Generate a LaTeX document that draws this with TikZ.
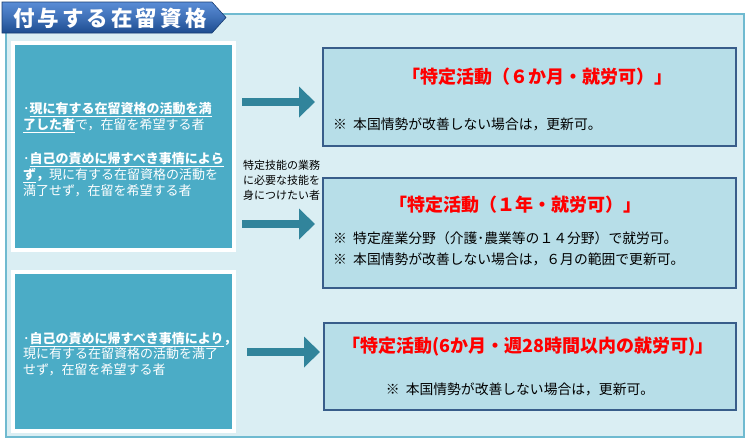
\documentclass[tikz,border=0pt]{standalone}
\usepackage{fontspec}
\setmainfont{Noto Sans CJK JP}
\usetikzlibrary{arrows.meta,shadows}
\definecolor{panelfill}{HTML}{DAEEF3}
\definecolor{panelline}{HTML}{6FBAD0}
\definecolor{leftfill}{HTML}{4BACC6}
\definecolor{rightfill}{HTML}{B7DEE8}
\definecolor{rightline}{HTML}{385D8A}
\definecolor{arrowcol}{HTML}{31849B}
\definecolor{bannertop}{HTML}{5A8DD6}
\definecolor{bannerbot}{HTML}{1D4C90}
\tikzset{
  leftbox/.style={draw=white, line width=4pt, fill=leftfill, inner sep=0pt,
    drop shadow={opacity=0.25, shadow xshift=1pt, shadow yshift=-1.5pt}},
  rightbox/.style={draw=rightline, line width=1.6pt, fill=rightfill, inner sep=0pt},
  flow/.style={draw=arrowcol, line width=8pt, -{Triangle[length=16pt,width=30pt]}},
  redtitle/.style={text=red, inner sep=0pt, font=\fontsize{18}{21}\selectfont\bfseries},
  note/.style={inner sep=0pt, font=\fontsize{13.8}{16}\selectfont},
  lefttext/.style={text=white, align=left, anchor=west, inner sep=0pt,
    font=\fontsize{13}{16}\selectfont},
  sidelabel/.style={align=left, anchor=north west, inner sep=0pt,
    font=\fontsize{11}{15}\selectfont},
}
\newcommand{\ulb}[1]{\underline{\textbf{#1}}}
\newcommand{\kome}{※\hspace{0.45em}}
\begin{document}
\begin{tikzpicture}[x=1pt,y=-1pt]
  \useasboundingbox (0,0) rectangle (749,440);
  % panel and banner
  \draw[fill=panelfill, draw=panelline, line width=1.8pt] (6,14) rectangle (744,437);
  \shade[top color=bannertop, bottom color=bannerbot, middle color=bannertop!55!bannerbot,
    draw=bannerbot!80!black, line width=0.6pt]
    (2,2) -- (212,2) -- (226,17.5) -- (212,33) -- (2,33) -- cycle;
  \node (ttl) at (110,18) [text=white, inner sep=0pt,
    font=\fontsize{21.5}{24}\selectfont\bfseries\addfontfeatures{LetterSpace=14}]{付与する在留資格};
  % left boxes
  \node (box1) at (123.5,146.5) [leftbox, minimum width=221pt, minimum height=207pt]{};
  \node (box2) at (123.5,351.5) [leftbox, minimum width=221pt, minimum height=159pt]{};
  \node (txt1) at (23,150) [lefttext]{%
    ･\ulb{現に有する在留資格の活動を満}\\
    \ulb{了した者}で，在留を希望する者\\[18pt]
    ･\ulb{自己の責めに帰すべき事情によら}\\
    \ulb{ず}\textbf{，}現に有する在留資格の活動を\\
    満了せず，在留を希望する者};
  \node (txt2) at (23,354) [lefttext, font=\fontsize{13}{15.5}\selectfont]{%
    ･\ulb{自己の責めに帰すべき事情により}\textbf{，}\\
    現に有する在留資格の活動を満了\\
    せず，在留を希望する者};
  % right boxes
  \node (r1) at (529.5,97) [rightbox, minimum width=413.4pt, minimum height=98.4pt]{};
  \node (r2) at (529.5,233) [rightbox, minimum width=413.4pt, minimum height=110.4pt]{};
  \node (r3) at (530,366.5) [rightbox, minimum width=412.4pt, minimum height=87.4pt]{};
  \node (t1) at (537,77) [redtitle]{「特定活動（６か月・就労可）」};
  \node (n1) at (333,124) [note, anchor=west]{\kome 本国情勢が改善しない場合は，更新可。};
  \node (t2) at (515,205) [redtitle]{「特定活動（１年・就労可）」};
  \node (n2a) at (333,238) [note, anchor=west]{\kome 特定産業分野（介護･農業等の１４分野）で就労可。};
  \node (n2b) at (333,259) [note, anchor=west]{\kome 本国情勢が改善しない場合は，６月の範囲で更新可。};
  \node (t3) at (528,347) [redtitle]{「特定活動(6か月・週28時間以内の就労可)」};
  \node (n3) at (520,389) [note]{\kome 本国情勢が改善しない場合は，更新可。};
  % side label
  \node (lbl) at (243,160) [sidelabel]{特定技能の業務\\に必要な技能を\\身につけたい者};
  % arrows
  \coordinate (y1) at (0,102);
  \coordinate (y2) at (0,224);
  \coordinate (y3) at (0,352);
  \draw[flow, shorten <=6pt, shorten >=7pt] (box1.east |- y1) -- (r1.west |- y1);
  \draw[flow, shorten <=6pt, shorten >=7pt] (box1.east |- y2) -- (r2.west |- y2);
  \draw[flow, shorten <=11pt, shorten >=3pt] (box2.east |- y3) -- (r3.west |- y3);
\end{tikzpicture}
\end{document}
